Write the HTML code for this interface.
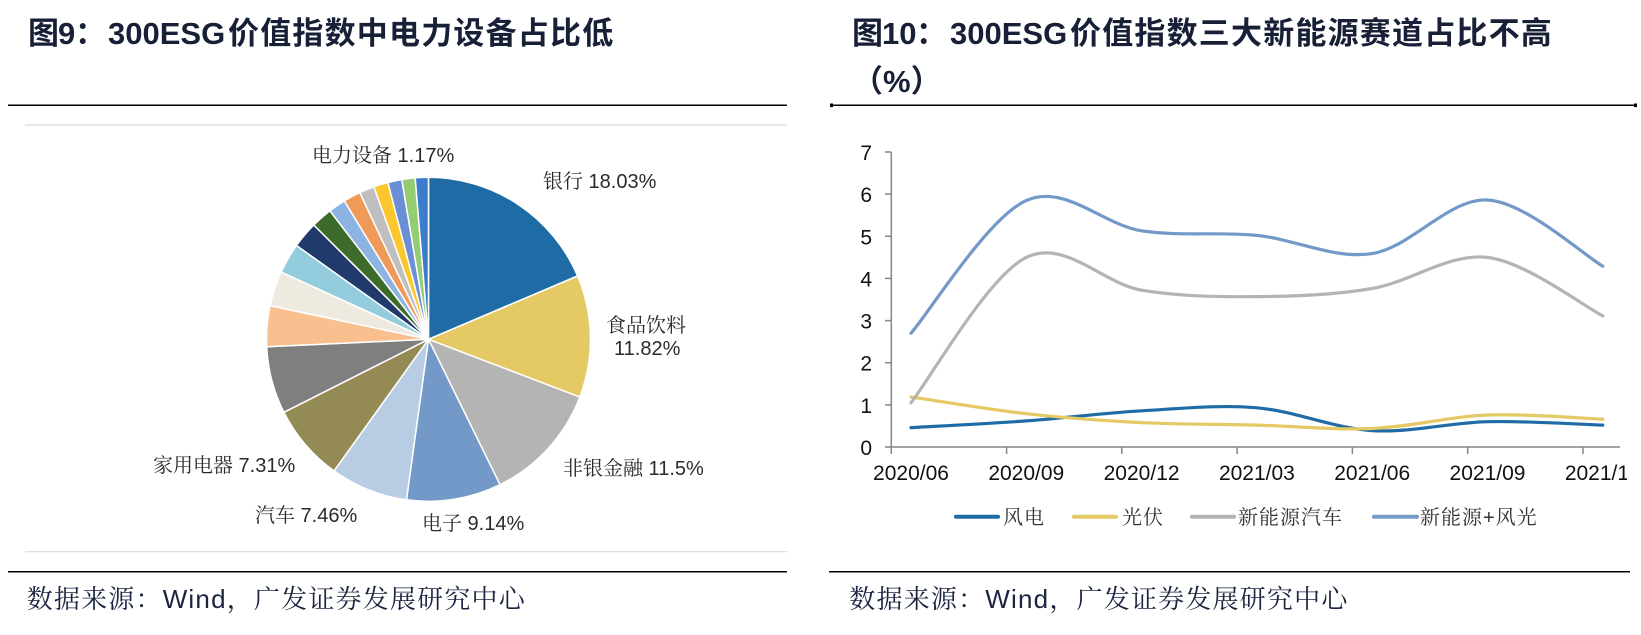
<!DOCTYPE html>
<html><head><meta charset="utf-8"><style>
html,body{margin:0;padding:0;background:#fff;}
svg{display:block;}
</style></head><body>
<svg width="1641" height="635" viewBox="0 0 1641 635" xmlns="http://www.w3.org/2000/svg">
<rect x="0" y="0" width="1641" height="635" fill="#fff"/>
<defs><clipPath id="cl"><rect x="820" y="0" width="807" height="635"/></clipPath></defs>

<!-- Titles -->
<g font-family="'Liberation Sans','Noto Sans CJK SC',sans-serif" font-weight="bold" font-size="31" fill="#172036">
  <text x="28" y="44">图</text>
  <text x="58" y="44">9</text>
  <text x="75" y="44">：</text>
  <text x="108" y="44">300ESG</text>
  <text x="228" y="44" letter-spacing="1.2">价值指数中电力设备占比低</text>

  <text x="852" y="44">图</text>
  <text x="882" y="44">10</text>
  <text x="916" y="44">：</text>
  <text x="950" y="44">300ESG</text>
  <text x="1070" y="44" letter-spacing="1.2">价值指数三大新能源赛道占比不高</text>
  <text x="852" y="92">（%）</text>
</g>

<!-- black rules -->
<line x1="8" y1="105.3" x2="787" y2="105.3" stroke="#000" stroke-width="1.5"/>
<line x1="831" y1="105.3" x2="1636" y2="105.3" stroke="#000" stroke-width="1.5"/>
<rect x="830" y="103.5" width="3" height="3.6" fill="#000"/>
<rect x="1634" y="103.5" width="3" height="3.6" fill="#000"/>
<line x1="8" y1="571.7" x2="787" y2="571.7" stroke="#000" stroke-width="1.5"/>
<line x1="829" y1="571.7" x2="1630" y2="571.7" stroke="#000" stroke-width="1.5"/>

<!-- pie frame -->
<line x1="25" y1="125" x2="787" y2="125" stroke="#d9d9d9" stroke-width="1.2"/>
<line x1="25" y1="551.7" x2="787" y2="551.7" stroke="#d9d9d9" stroke-width="1.2"/>

<!-- Pie -->
<g stroke="#fff" stroke-width="1.5" stroke-linejoin="round">
  <path d="M428.5,339.3 L428.5,177.3 A162,162 0 0 1 577.6,276.0 Z" fill="#1f6ba5"/>
  <path d="M428.5,339.3 L577.6,276.0 A162,162 0 0 1 579.8,397.1 Z" fill="#e4c965"/>
  <path d="M428.5,339.3 L579.8,397.1 A162,162 0 0 1 500.0,484.7 Z" fill="#b4b4b4"/>
  <path d="M428.5,339.3 L500.0,484.7 A162,162 0 0 1 406.5,499.8 Z" fill="#7399c8"/>
  <path d="M428.5,339.3 L406.5,499.8 A162,162 0 0 1 334.0,470.9 Z" fill="#b8cce4"/>
  <path d="M428.5,339.3 L334.0,470.9 A162,162 0 0 1 283.9,412.3 Z" fill="#948b54"/>
  <path d="M428.5,339.3 L283.9,412.3 A162,162 0 0 1 266.7,346.7 Z" fill="#7f7f7f"/>
  <path d="M428.5,339.3 L266.7,346.7 A162,162 0 0 1 270.0,305.6 Z" fill="#f9bf8f"/>
  <path d="M428.5,339.3 L270.0,305.6 A162,162 0 0 1 281.1,272.1 Z" fill="#eeeadf"/>
  <path d="M428.5,339.3 L281.1,272.1 A162,162 0 0 1 296.5,245.5 Z" fill="#93cddd"/>
  <path d="M428.5,339.3 L296.5,245.5 A162,162 0 0 1 313.8,225.0 Z" fill="#1f3a6b"/>
  <path d="M428.5,339.3 L313.8,225.0 A162,162 0 0 1 329.9,210.8 Z" fill="#3d6b2a"/>
  <path d="M428.5,339.3 L329.9,210.8 A162,162 0 0 1 344.3,200.9 Z" fill="#8db3e2"/>
  <path d="M428.5,339.3 L344.3,200.9 A162,162 0 0 1 359.8,192.6 Z" fill="#f09a5a"/>
  <path d="M428.5,339.3 L359.8,192.6 A162,162 0 0 1 373.9,186.8 Z" fill="#bfbfbf"/>
  <path d="M428.5,339.3 L373.9,186.8 A162,162 0 0 1 387.9,182.5 Z" fill="#fcc72c"/>
  <path d="M428.5,339.3 L387.9,182.5 A162,162 0 0 1 401.8,179.5 Z" fill="#6a8fd6"/>
  <path d="M428.5,339.3 L401.8,179.5 A162,162 0 0 1 415.2,177.9 Z" fill="#93cc72"/>
  <path d="M428.5,339.3 L415.2,177.9 A162,162 0 0 1 428.5,177.3 Z" fill="#3c7dcc"/>
</g>

<!-- Pie labels -->
<g font-family="'Liberation Sans','Noto Serif CJK SC',serif" font-size="20" fill="#2b2b2b">
  <text x="312" y="162">电力设备 1.17%</text>
  <text x="543" y="188">银行 18.03%</text>
  <text x="606" y="332">食品饮料</text>
  <text x="614" y="355">11.82%</text>
  <text x="563" y="475">非银金融 11.5%</text>
  <text x="422" y="530">电子 9.14%</text>
  <text x="255" y="522">汽车 7.46%</text>
  <text x="153" y="472">家用电器 7.31%</text>
</g>

<!-- Line chart axes -->
<g stroke="#868686" stroke-width="1.5">
  <line x1="891.3" y1="152" x2="891.3" y2="447"/>
  <line x1="891.3" y1="447" x2="1620" y2="447"/>
  <line x1="885" y1="447" x2="891.3" y2="447"/>
  <line x1="885" y1="404.9" x2="891.3" y2="404.9"/>
  <line x1="885" y1="362.7" x2="891.3" y2="362.7"/>
  <line x1="885" y1="320.6" x2="891.3" y2="320.6"/>
  <line x1="885" y1="278.4" x2="891.3" y2="278.4"/>
  <line x1="885" y1="236.3" x2="891.3" y2="236.3"/>
  <line x1="885" y1="194.1" x2="891.3" y2="194.1"/>
  <line x1="885" y1="152" x2="891.3" y2="152"/>
  <line x1="891.3" y1="447" x2="891.3" y2="454"/>
  <line x1="1006.6" y1="447" x2="1006.6" y2="454"/>
  <line x1="1121.8" y1="447" x2="1121.8" y2="454"/>
  <line x1="1237.1" y1="447" x2="1237.1" y2="454"/>
  <line x1="1352.4" y1="447" x2="1352.4" y2="454"/>
  <line x1="1467.7" y1="447" x2="1467.7" y2="454"/>
  <line x1="1583.0" y1="447" x2="1583.0" y2="454"/>
</g>

<g font-family="'Liberation Sans',sans-serif" font-size="21" fill="#111" text-anchor="end">
  <text x="872" y="455">0</text>
  <text x="872" y="412.9">1</text>
  <text x="872" y="370.7">2</text>
  <text x="872" y="328.6">3</text>
  <text x="872" y="286.4">4</text>
  <text x="872" y="244.3">5</text>
  <text x="872" y="202.1">6</text>
  <text x="872" y="160">7</text>
</g>
<g font-family="'Liberation Sans',sans-serif" font-size="21" fill="#111" text-anchor="middle" clip-path="url(#cl)">
  <text x="911" y="480">2020/06</text>
  <text x="1026.3" y="480">2020/09</text>
  <text x="1141.6" y="480">2020/12</text>
  <text x="1256.9" y="480">2021/03</text>
  <text x="1372.2" y="480">2021/06</text>
  <text x="1487.5" y="480">2021/09</text>
  <text x="1602.8" y="480">2021/12</text>
</g>

<!-- Series -->
<g fill="none" stroke-width="3.2" stroke-linecap="round" stroke-linejoin="round">
  <path stroke="#1f6ba5" d="M911,427.6 C930.2,426.5 987.9,423.7 1026.3,420.9 C1064.7,418.1 1103.2,413.0 1141.6,410.8 C1180.0,408.6 1218.5,404.5 1256.9,407.8 C1295.3,411.1 1333.8,428.3 1372.2,430.6 C1410.6,432.9 1449.1,422.6 1487.5,421.7 C1525.9,420.8 1583.6,424.5 1602.8,425.1"/>
  <path stroke="#e4c965" d="M911,396.9 C930.2,399.7 987.9,409.4 1026.3,413.7 C1064.7,418.0 1103.2,420.7 1141.6,422.6 C1180.0,424.5 1218.5,424.1 1256.9,425.1 C1295.3,426.1 1333.8,430.2 1372.2,428.5 C1410.6,426.8 1449.1,416.6 1487.5,415.0 C1525.9,413.5 1583.6,418.5 1602.8,419.2"/>
  <path stroke="#b4b4b4" d="M911,402.8 C930.2,378.6 987.9,276.2 1026.3,257.4 C1064.7,238.6 1103.2,283.7 1141.6,290.2 C1180.0,296.7 1218.5,296.9 1256.9,296.6 C1295.3,296.3 1333.8,295.0 1372.2,288.5 C1410.6,282.0 1449.1,252.8 1487.5,257.4 C1525.9,262.0 1583.6,306.2 1602.8,315.9"/>
  <path stroke="#7399c8" d="M911,333.2 C930.2,311.1 987.9,217.6 1026.3,200.5 C1064.7,183.4 1103.2,225.0 1141.6,230.8 C1180.0,236.6 1218.5,231.6 1256.9,235.4 C1295.3,239.2 1333.8,259.5 1372.2,253.6 C1410.6,247.7 1449.1,197.9 1487.5,200.0 C1525.9,202.1 1583.6,255.2 1602.8,266.2"/>
</g>

<!-- Legend -->
<g stroke-width="4" stroke-linecap="round">
  <line x1="956" y1="516.7" x2="998" y2="516.7" stroke="#1f6ba5"/>
  <line x1="1074" y1="516.7" x2="1116" y2="516.7" stroke="#e4c965"/>
  <line x1="1192" y1="516.7" x2="1234" y2="516.7" stroke="#b4b4b4"/>
  <line x1="1374" y1="516.7" x2="1417" y2="516.7" stroke="#7399c8"/>
</g>
<g font-family="'Liberation Sans','Noto Serif CJK SC',serif" font-size="20" fill="#333" letter-spacing="1">
  <text x="1003" y="524">风电</text>
  <text x="1122" y="524">光伏</text>
  <text x="1238" y="524">新能源汽车</text>
  <text x="1420" y="524">新能源+风光</text>
</g>

<!-- Footers -->
<g font-family="'Liberation Sans','Noto Serif CJK SC',serif" font-size="26" fill="#1a2440" letter-spacing="1.2">
  <text x="26.7" y="608">数据来源：Wind，广发证券发展研究中心</text>
  <text x="849.3" y="608">数据来源：Wind，广发证券发展研究中心</text>
</g>
</svg>
</body></html>
